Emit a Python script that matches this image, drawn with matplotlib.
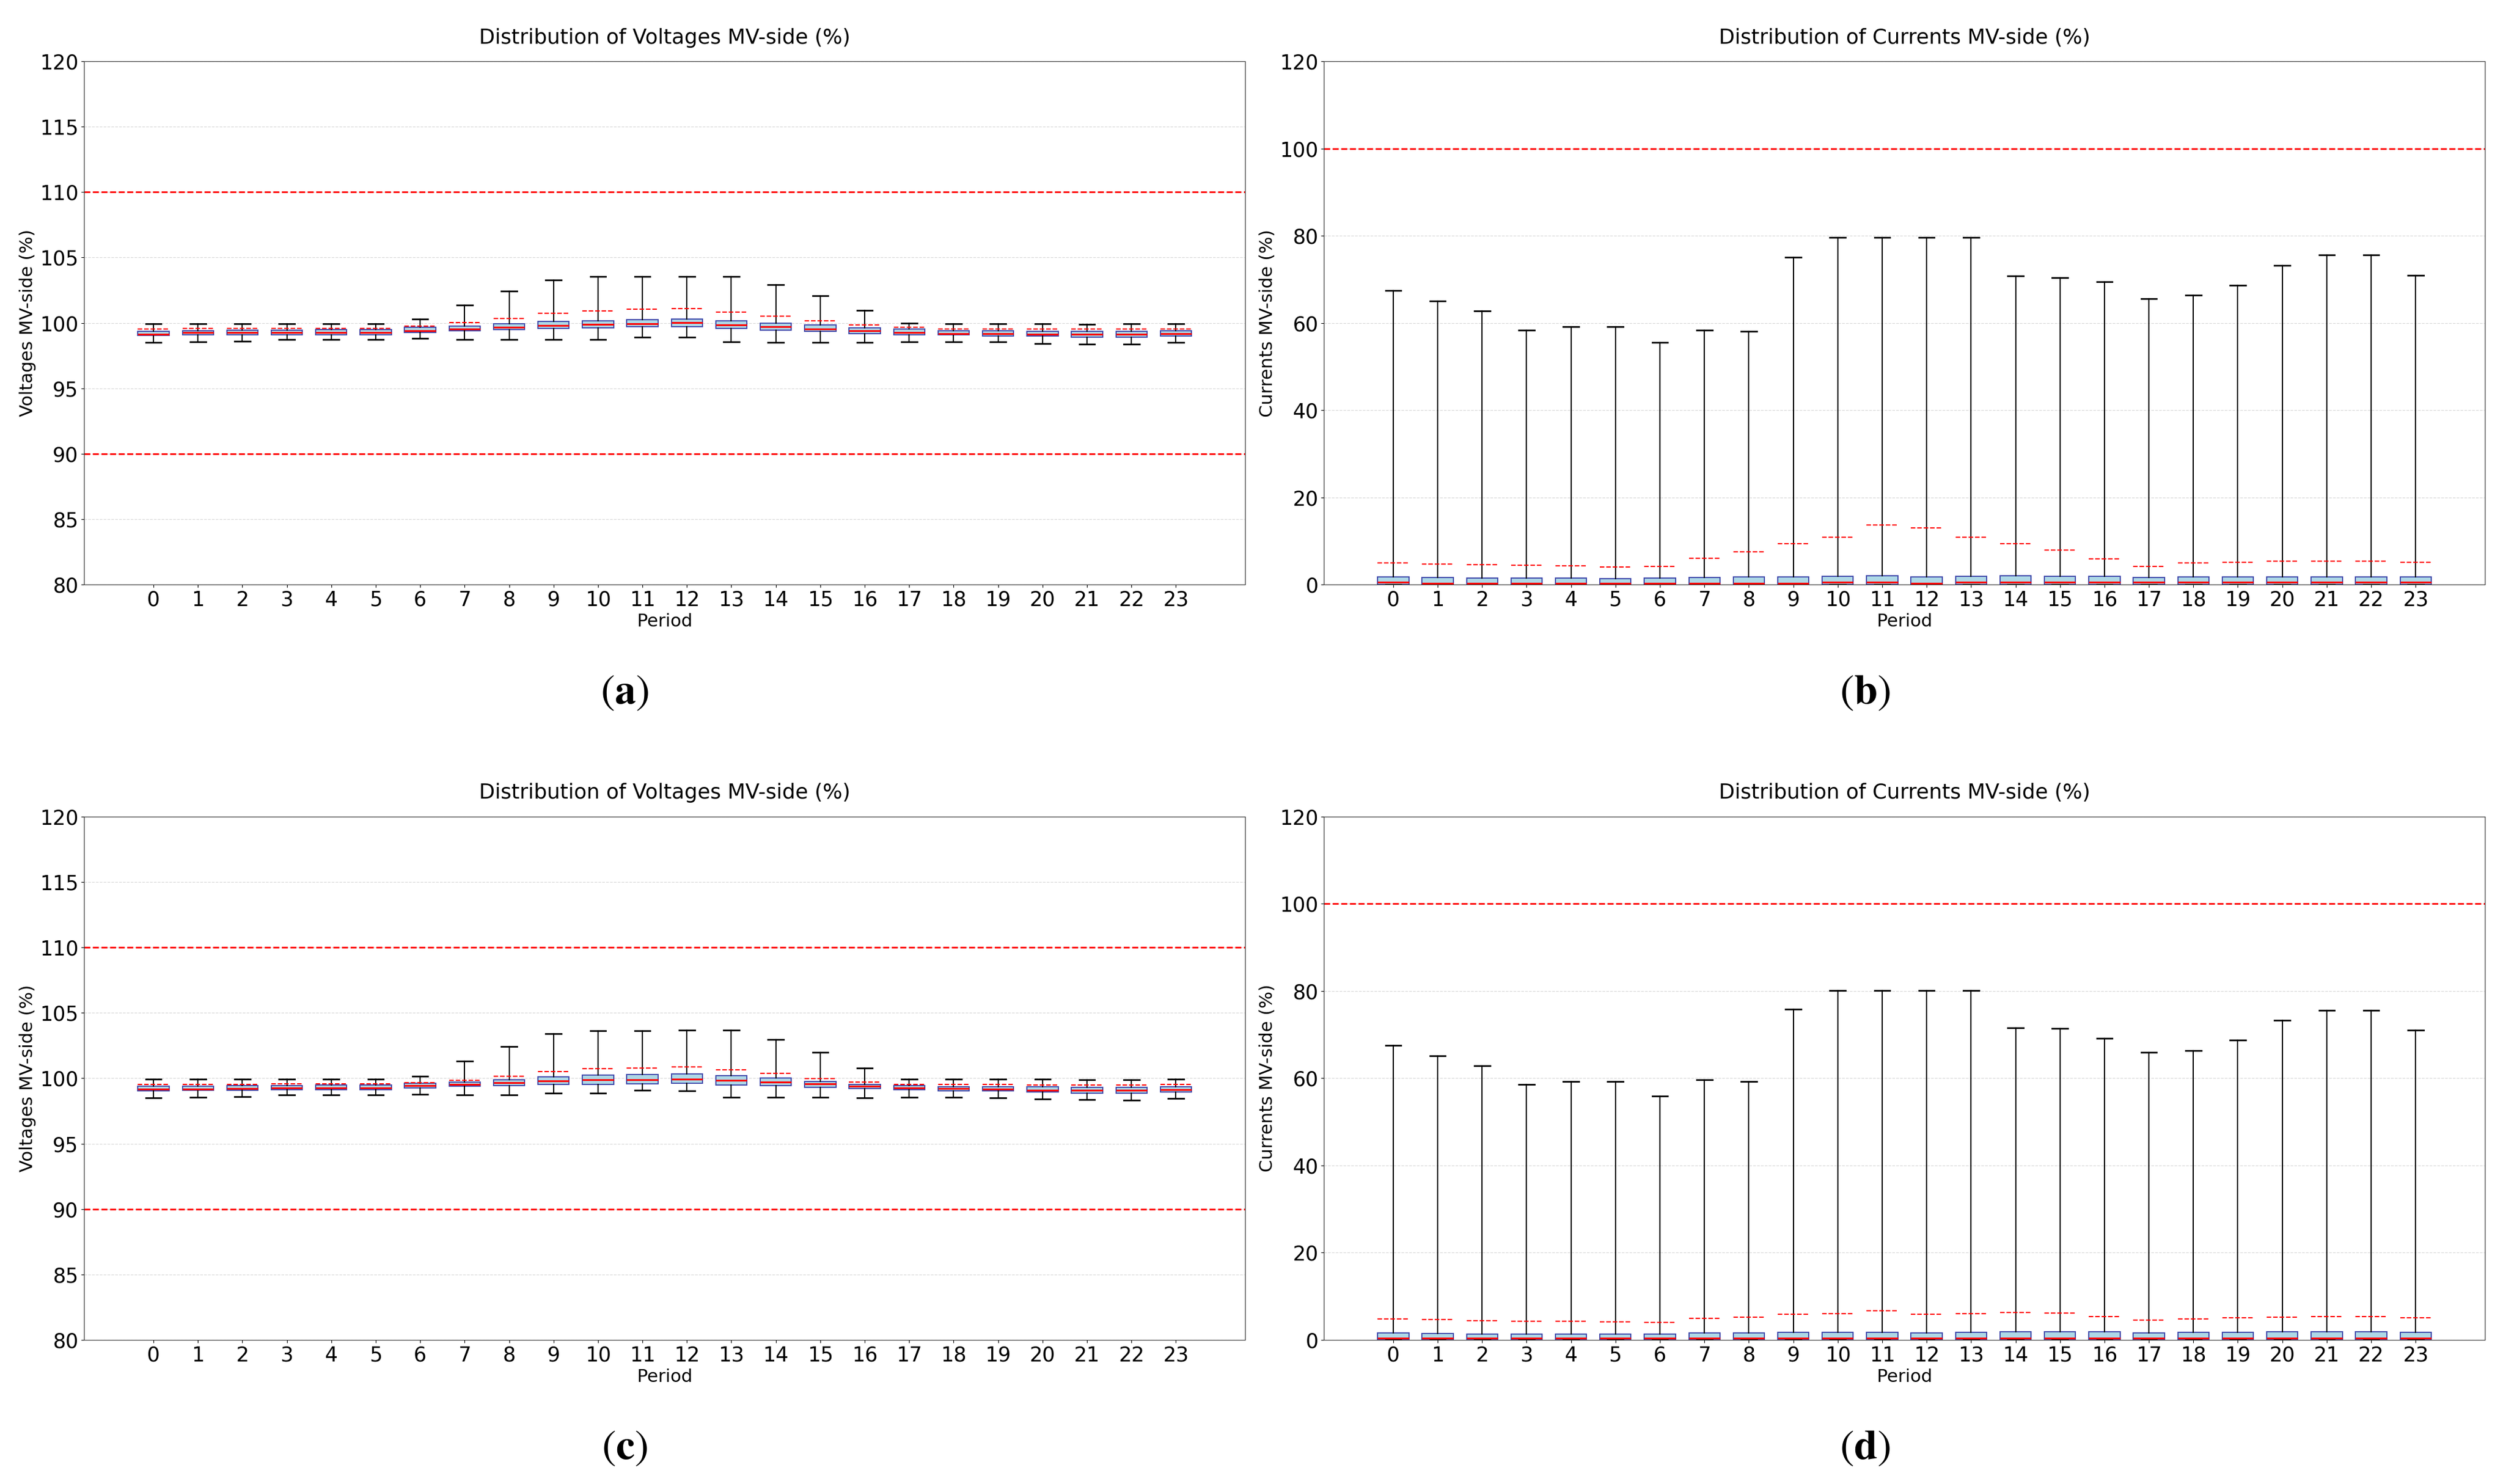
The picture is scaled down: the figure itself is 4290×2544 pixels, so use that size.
"""Hourly MV-side voltage and current distributions, four box-plot panels."""

import matplotlib
matplotlib.use("Agg")
import matplotlib.pyplot as plt

periods = list(range(24))

# (a) voltages, first case
volt_a_whishi = [99.93, 99.93, 99.93, 99.93, 99.93, 99.93, 100.28, 101.35, 102.43, 103.3, 103.57, 103.57,
                 103.57, 103.57, 102.93, 102.09, 100.98, 100.0, 99.95, 99.95, 99.95, 99.9, 99.95, 99.95]
volt_a_whislo = [98.52, 98.57, 98.62, 98.72, 98.72, 98.72, 98.8, 98.73, 98.75, 98.75, 98.75, 98.93,
                 98.93, 98.57, 98.5, 98.52, 98.5, 98.57, 98.57, 98.55, 98.43, 98.36, 98.36, 98.5]
volt_a_q3 = [99.37, 99.42, 99.44, 99.46, 99.49, 99.49, 99.65, 99.75, 99.93, 100.11, 100.16, 100.25,
             100.3, 100.16, 99.98, 99.84, 99.64, 99.55, 99.41, 99.41, 99.36, 99.36, 99.36, 99.41]
volt_a_q1 = [99.03, 99.08, 99.08, 99.11, 99.11, 99.11, 99.28, 99.39, 99.48, 99.57, 99.61, 99.7,
             99.7, 99.57, 99.43, 99.34, 99.2, 99.09, 99.07, 98.98, 98.98, 98.93, 98.93, 98.98]
volt_a_med = [99.15, 99.25, 99.25, 99.28, 99.28, 99.28, 99.42, 99.52, 99.68, 99.8, 99.89, 99.95,
              100.02, 99.84, 99.7, 99.52, 99.39, 99.25, 99.16, 99.18, 99.14, 99.14, 99.14, 99.16]
volt_a_mean = [99.52, 99.56, 99.56, 99.56, 99.59, 99.59, 99.77, 100.02, 100.34, 100.75, 100.93, 101.07,
               101.09, 100.84, 100.52, 100.16, 99.84, 99.66, 99.55, 99.55, 99.55, 99.55, 99.55, 99.55]

# (b) currents, first case
curr_b_whishi = [67.4, 65.0, 62.8, 58.4, 59.2, 59.2, 55.5, 58.4, 58.1, 75.1, 79.6, 79.6,
                 79.6, 79.6, 70.8, 70.4, 69.4, 65.5, 66.3, 68.6, 73.2, 75.6, 75.6, 70.9]
curr_b_whislo = [0.0] * 24
curr_b_q3 = [1.7, 1.56, 1.43, 1.43, 1.43, 1.3, 1.43, 1.56, 1.7, 1.7, 1.88, 2.0,
             1.74, 1.88, 2.0, 1.88, 1.88, 1.56, 1.7, 1.7, 1.7, 1.7, 1.7, 1.7]
curr_b_q1 = [0.05] * 24
curr_b_med = [0.49, 0.31, 0.31, 0.31, 0.31, 0.31, 0.31, 0.31, 0.31, 0.31, 0.49, 0.49,
              0.31, 0.49, 0.49, 0.49, 0.49, 0.49, 0.49, 0.49, 0.49, 0.49, 0.49, 0.49]
curr_b_mean = [4.91, 4.69, 4.51, 4.38, 4.24, 4.02, 4.15, 6.0, 7.5, 9.4, 10.8, 13.6,
               13.0, 10.9, 9.4, 7.9, 5.9, 4.1, 4.9, 5.1, 5.3, 5.4, 5.3, 5.1]

# (c) voltages, second case
volt_c_whishi = [99.92, 99.92, 99.92, 99.92, 99.92, 99.92, 100.15, 101.3, 102.43, 103.39, 103.64, 103.64,
                 103.69, 103.69, 102.96, 102.0, 100.77, 99.95, 99.93, 99.93, 99.93, 99.89, 99.89, 99.93]
volt_c_whislo = [98.51, 98.57, 98.61, 98.73, 98.73, 98.73, 98.77, 98.73, 98.75, 98.86, 98.86, 99.09,
                 99.04, 98.57, 98.54, 98.54, 98.5, 98.54, 98.54, 98.5, 98.41, 98.36, 98.32, 98.45]
volt_c_q3 = [99.38, 99.38, 99.42, 99.42, 99.48, 99.48, 99.61, 99.7, 99.89, 100.11, 100.25, 100.3,
             100.34, 100.2, 100.02, 99.75, 99.52, 99.43, 99.36, 99.36, 99.34, 99.32, 99.32, 99.36]
volt_c_q1 = [99.03, 99.07, 99.07, 99.11, 99.11, 99.13, 99.28, 99.39, 99.45, 99.54, 99.54, 99.59,
             99.64, 99.5, 99.45, 99.32, 99.23, 99.11, 99.02, 99.02, 98.93, 98.86, 98.86, 98.95]
volt_c_med = [99.17, 99.18, 99.22, 99.26, 99.26, 99.26, 99.43, 99.54, 99.68, 99.82, 99.89, 99.89,
              99.95, 99.84, 99.7, 99.57, 99.39, 99.27, 99.2, 99.18, 99.09, 99.09, 99.09, 99.14]
volt_c_mean = [99.52, 99.54, 99.54, 99.58, 99.58, 99.58, 99.66, 99.84, 100.16, 100.52, 100.73, 100.77,
               100.86, 100.66, 100.36, 99.98, 99.7, 99.54, 99.52, 99.52, 99.48, 99.48, 99.48, 99.52]

# (d) currents, second case
curr_d_whishi = [67.5, 65.1, 62.9, 58.6, 59.3, 59.2, 55.9, 59.6, 59.3, 75.8, 80.1, 80.1,
                 80.1, 80.1, 71.6, 71.5, 69.1, 65.9, 66.3, 68.7, 73.3, 75.6, 75.6, 71.0]
curr_d_whislo = [0.0] * 24
curr_d_q3 = [1.65, 1.52, 1.38, 1.38, 1.38, 1.38, 1.38, 1.56, 1.56, 1.7, 1.7, 1.7,
             1.56, 1.7, 1.83, 1.83, 1.83, 1.56, 1.7, 1.7, 1.83, 1.83, 1.83, 1.7]
curr_d_q1 = [0.05] * 24
curr_d_med = [0.4] * 24
curr_d_mean = [4.82, 4.64, 4.46, 4.33, 4.24, 4.11, 4.02, 5.0, 5.27, 5.94, 5.98, 6.65,
               5.94, 5.98, 6.34, 6.16, 5.4, 4.6, 4.87, 5.09, 5.27, 5.4, 5.4, 5.09]

volt_limits = [90, 110]
curr_limits = [100]


def box_stats(whislo, q1, med, q3, whishi, mean):
    return [
        {"whislo": lo, "q1": a, "med": m, "q3": b, "whishi": hi, "mean": mu, "fliers": []}
        for lo, a, m, b, hi, mu in zip(whislo, q1, med, q3, whishi, mean)
    ]


def draw_panel(ax, stats, limits, quantity, ylim, yticks):
    ax.yaxis.grid(True, linestyle="--", color="#d0d0d0", linewidth=0.9, alpha=0.8)
    ax.set_axisbelow(True)
    ax.bxp(
        stats,
        positions=periods,
        widths=0.7,
        patch_artist=True,
        showmeans=True,
        meanline=True,
        showfliers=False,
        boxprops=dict(facecolor="#ADD8E6", edgecolor="#3F48AA", linewidth=1.4),
        whiskerprops=dict(color="black", linewidth=1.5),
        capprops=dict(color="black", linewidth=2.0),
        medianprops=dict(color="red", linewidth=2.2),
        meanprops=dict(color="red", linestyle="--", linewidth=1.5),
    )
    for level in limits:
        ax.axhline(level, color="red", linestyle="--", linewidth=2.0)
    ax.set_xlim(-1.56, 24.56)
    ax.set_ylim(*ylim)
    ax.set_yticks(yticks)
    ax.set_xticks(periods, [str(p) for p in periods])
    ax.tick_params(labelsize=25)
    for spine in ax.spines.values():
        spine.set_color("#333333")
    ax.set_title(f"Distribution of {quantity} MV-side (%)", fontsize=25.5, pad=22)
    ax.set_xlabel("Period", fontsize=22)
    ax.set_ylabel(f"{quantity} MV-side (%)", fontsize=22)


plt.rcParams["mathtext.fontset"] = "stix"
fig = plt.figure(figsize=(42.9, 25.44), dpi=100)

left_cols = [0.0336, 0.5289]
bottom_rows = [0.6061, 0.0971]
width, height = 0.4639, 0.3526

panels = [
    (0, 0, box_stats(volt_a_whislo, volt_a_q1, volt_a_med, volt_a_q3, volt_a_whishi, volt_a_mean),
     volt_limits, "Voltages", (80, 120), range(80, 121, 5), "a"),
    (1, 0, box_stats(curr_b_whislo, curr_b_q1, curr_b_med, curr_b_q3, curr_b_whishi, curr_b_mean),
     curr_limits, "Currents", (0, 120), range(0, 121, 20), "b"),
    (0, 1, box_stats(volt_c_whislo, volt_c_q1, volt_c_med, volt_c_q3, volt_c_whishi, volt_c_mean),
     volt_limits, "Voltages", (80, 120), range(80, 121, 5), "c"),
    (1, 1, box_stats(curr_d_whislo, curr_d_q1, curr_d_med, curr_d_q3, curr_d_whishi, curr_d_mean),
     curr_limits, "Currents", (0, 120), range(0, 121, 20), "d"),
]

label_x = [0.2494, 0.745]
label_y = [0.5334, 0.0245]

for col, row, stats, limits, quantity, ylim, yticks, tag in panels:
    ax = fig.add_axes([left_cols[col], bottom_rows[row], width, height])
    draw_panel(ax, stats, limits, quantity, ylim, yticks)
    fig.text(label_x[col], label_y[row], rf"$(\mathbf{{{tag}}})$", fontsize=52,
             ha="center", va="center")

fig.savefig("out.png", dpi=100)
